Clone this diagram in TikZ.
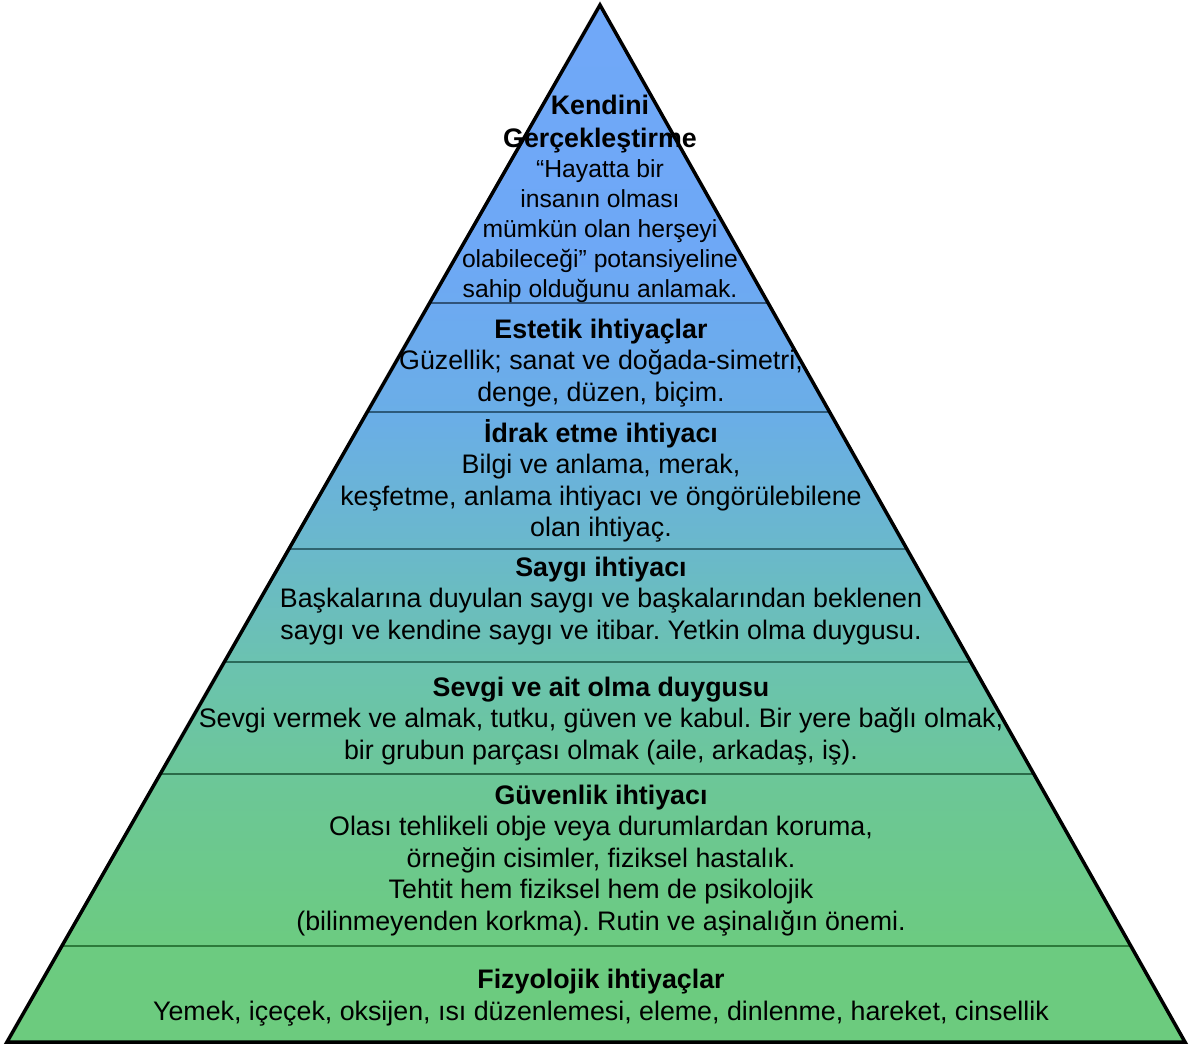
\documentclass[tikz,border=0pt]{standalone}
\usepackage{fontspec}
\setmainfont{Liberation Sans}
\usetikzlibrary{calc}
\frenchspacing
\definecolor{s1}{RGB}{108,203,126}
\definecolor{s2}{RGB}{108,203,128}
\definecolor{s3}{RGB}{108,199,150}
\definecolor{s4}{RGB}{107,195,174}
\definecolor{s5}{RGB}{106,184,204}
\definecolor{s6}{RGB}{106,174,230}
\definecolor{s7}{RGB}{110,168,246}
\definecolor{s8}{RGB}{112,168,248}
\definecolor{d1}{RGB}{48,83,122}
\definecolor{d2}{RGB}{44,90,122}
\definecolor{d3}{RGB}{47,100,112}
\definecolor{d4}{RGB}{42,106,90}
\definecolor{d5}{RGB}{42,106,72}
\definecolor{d6}{RGB}{45,122,58}
\pgfdeclareverticalshading{pyrshade}{100bp}{color(0bp)=(s1); color(25bp)=(s1); color(29.4bp)=(s2); color(37.15bp)=(s3); color(42.9bp)=(s4); color(49bp)=(s5); color(55bp)=(s6); color(63.2bp)=(s7); color(75bp)=(s8); color(100bp)=(s8)}
\tikzset{
  bandtext/.style={align=center, inner sep=0pt, text=black, font=\fontsize{26.8}{31.5}\selectfont},
  toptext/.style={align=center, inner sep=0pt, text=black, font=\fontsize{24.7}{30}\selectfont},
  divider/.style={line width=2pt},
  outline/.style={line width=3.5pt, draw=black, line join=miter}
}
\newcommand{\bigtitle}[1]{{\fontsize{26.8}{30}\selectfont\bfseries #1}}
\begin{document}
\begin{tikzpicture}[x=1pt,y=-1pt]
\useasboundingbox (0,0) rectangle (1189,1046);
\coordinate (A) at (600,5);
\coordinate (L) at (7,1042);
\coordinate (R) at (1185,1042);
\shade[shading=pyrshade] (A) -- (L) -- (R) -- cycle;
% dividers
\foreach \yy/\cc [count=\i] in {303/d1,412/d2,549/d3,662/d4,774/d5,946/d6}{
  \pgfmathsetmacro{\tt}{(\yy-5)/1037}
  \coordinate (dl\i) at ($(A)!\tt!(L)$);
  \coordinate (dr\i) at ($(A)!\tt!(R)$);
  \draw[divider, draw=\cc] (dl\i) -- (dr\i);
}
\draw[outline] (A) -- (L) -- (R) -- cycle;
% texts
\node[toptext, anchor=north] (b1) at (600,95) {\bigtitle{Kendini}\\[3pt]\bigtitle{Gerçekleştirme}\\“Hayatta bir\\insanın olması\\mümkün olan herşeyi\\olabileceği” potansiyeline\\sahip olduğunu anlamak.};
\node[bandtext] (b2) at (601,363) {\textbf{Estetik ihtiyaçlar}\\Güzellik; sanat ve doğada-simetri,\\denge, düzen, biçim.};
\node[bandtext] (b3) at (601,481) {\textbf{İdrak etme ihtiyacı}\\Bilgi ve anlama, merak,\\keşfetme, anlama ihtiyacı ve öngörülebilene\\olan ihtiyaç.};
\node[bandtext] (b4) at (601,601) {\textbf{Saygı ihtiyacı}\\Başkalarına duyulan saygı ve başkalarından beklenen\\saygı ve kendine saygı ve itibar. Yetkin olma duygusu.};
\node[bandtext] (b5) at (601,721) {\textbf{Sevgi ve ait olma duygusu}\\Sevgi vermek ve almak, tutku, güven ve kabul. Bir yere bağlı olmak,\\bir grubun parçası olmak (aile, arkadaş, iş).};
\node[bandtext] (b6) at (601,860.5) {\textbf{Güvenlik ihtiyacı}\\Olası tehlikeli obje veya durumlardan koruma,\\örneğin cisimler, fiziksel hastalık.\\Tehtit hem fiziksel hem de psikolojik\\(bilinmeyenden korkma). Rutin ve aşinalığın önemi.};
\node[bandtext] (b7) at (601,997.5) {\textbf{Fizyolojik ihtiyaçlar}\\Yemek, içeçek, oksijen, ısı düzenlemesi, eleme, dinlenme, hareket, cinsellik};
\end{tikzpicture}
\end{document}
